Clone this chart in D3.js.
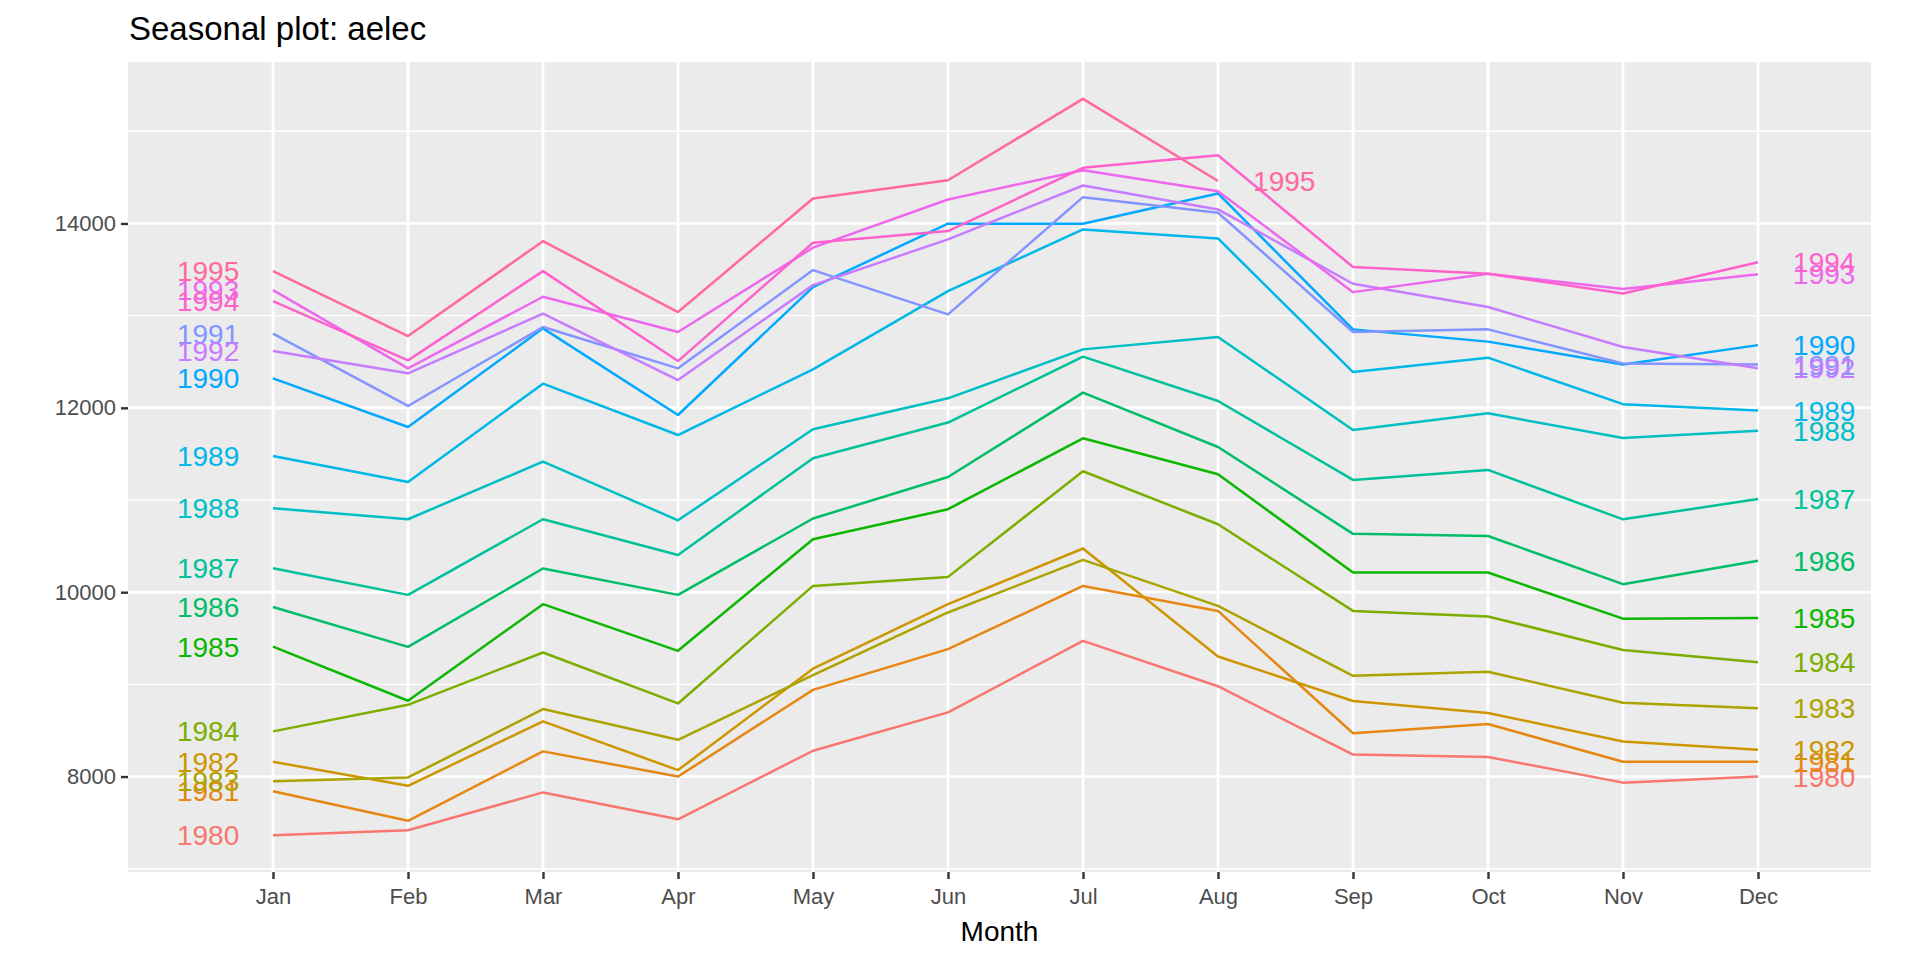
<!DOCTYPE html>
<html>
<head>
<meta charset="utf-8">
<script src="https://cdn.jsdelivr.net/npm/d3@7"></script>
<style>
  body { margin: 0; background: #ffffff; }
  svg { display: block; font-family: 'Liberation Sans', Arial, sans-serif; }
</style>
</head>
<body>
<svg></svg>
<script>
//chart data
let months = ['Jan', 'Feb', 'Mar', 'Apr', 'May', 'Jun', 'Jul', 'Aug', 'Sep', 'Oct', 'Nov', 'Dec'];
let years = [1980, 1981, 1982, 1983, 1984, 1985, 1986, 1987, 1988, 1989, 1990, 1991, 1992, 1993, 1994, 1995];
let yTicks = [8000, 10000, 12000, 14000];

//ggplot hue palette for 16 groups
let colors = ['#F8766D', '#E68613', '#CD9600', '#ABA300', '#7CAE00', '#0CB702', '#00BE67', '#00C19A',
              '#00BFC4', '#00B8E7', '#00A9FF', '#8494FF', '#C77CFF', '#ED68ED', '#FF61CC', '#FF68A1'];

let y1980 = [7364, 7417, 7828, 7536, 8280, 8696, 9472, 8980, 8238, 8212, 7934, 8000];
let y1981 = [7840, 7520, 8273, 8000, 8940, 9382, 10068, 9797, 8470, 8570, 8160, 8160];
let y1982 = [8160, 7900, 8598, 8070, 9170, 9870, 10474, 9303, 8820, 8690, 8380, 8290];
let y1983 = [7950, 7990, 8732, 8399, 9100, 9780, 10350, 9852, 9093, 9136, 8800, 8740];
let y1984 = [8490, 8778, 9346, 8793, 10068, 10166, 11312, 10737, 9797, 9737, 9372, 9240];
let y1985 = [9410, 8822, 9870, 9364, 10575, 10900, 11669, 11279, 10213, 10213, 9713, 9720];
let y1986 = [9840, 9407, 10257, 9971, 10799, 11250, 12165, 11575, 10633, 10610, 10087, 10340];
let y1987 = [10260, 9971, 10791, 10404, 11453, 11840, 12555, 12074, 11218, 11326, 10790, 11010];
let y1988 = [10911, 10791, 11417, 10780, 11767, 12103, 12634, 12768, 11760, 11940, 11672, 11750];
let y1989 = [11478, 11196, 12262, 11705, 12417, 13266, 13935, 13837, 12388, 12544, 12040, 11970];
let y1990 = [12320, 11792, 12862, 11922, 13310, 13997, 13997, 14325, 12851, 12718, 12470, 12680];
let y1991 = [12804, 12020, 12876, 12428, 13494, 13014, 14285, 14116, 12822, 12851, 12480, 12470];
let y1992 = [12616, 12374, 13021, 12301, 13331, 13827, 14412, 14152, 13346, 13093, 12660, 12430];
let y1993 = [13277, 12428, 13205, 12822, 13737, 14260, 14578, 14350, 13255, 13455, 13290, 13450];
let y1994 = [13158, 12515, 13483, 12507, 13791, 13917, 14604, 14740, 13527, 13455, 13240, 13580];
let y1995 = [13483, 12778, 13808, 13039, 14271, 14469, 15352, 14460];

let series = [y1980, y1981, y1982, y1983, y1984, y1985, y1986, y1987,
              y1988, y1989, y1990, y1991, y1992, y1993, y1994, y1995];

//svg and panel dimensions
let width = 1920;
let height = 960;
let panel = {left: 128, right: 1871, top: 62, bottom: 872};

let svg = d3.select('svg')
    .attr('width', width)
    .attr('height', height);

//x is month index (Jan = 1), extra room left and right for the year labels
let xScale = d3.scaleLinear()
    .domain([-0.074, 12.837])
    .range([panel.left, panel.right]);

//y expanded by 5% like ggplot
let allValues = series.flat();
let yMin = d3.min(allValues);
let yMax = d3.max(allValues);
let pad = (yMax - yMin) * 0.05;
let yScale = d3.scaleLinear()
    .domain([yMin - pad, yMax + pad])
    .range([panel.bottom, panel.top]);

let step = yTicks[1] - yTicks[0];
let yMinor = [yTicks[0] - step / 2]
    .concat(yTicks.map(t => t + step / 2))
    .filter(t => t >= yScale.domain()[0] && t <= yScale.domain()[1]);

//panel background
svg.append('rect')
    .attr('x', panel.left)
    .attr('y', panel.top)
    .attr('width', panel.right - panel.left)
    .attr('height', panel.bottom - panel.top)
    .attr('fill', '#EBEBEB');

//grid lines
let grid = svg.append('g');
grid.selectAll('.minor')
    .data(yMinor)
    .enter().append('line')
    .attr('x1', panel.left).attr('x2', panel.right)
    .attr('y1', d => yScale(d)).attr('y2', d => yScale(d))
    .attr('stroke', '#ffffff').attr('stroke-width', 1.35);
grid.selectAll('.major-y')
    .data(yTicks)
    .enter().append('line')
    .attr('x1', panel.left).attr('x2', panel.right)
    .attr('y1', d => yScale(d)).attr('y2', d => yScale(d))
    .attr('stroke', '#ffffff').attr('stroke-width', 2.7);
grid.selectAll('.major-x')
    .data(months)
    .enter().append('line')
    .attr('x1', (d, i) => xScale(i + 1)).attr('x2', (d, i) => xScale(i + 1))
    .attr('y1', panel.top).attr('y2', panel.bottom)
    .attr('stroke', '#ffffff').attr('stroke-width', 2.7);

//one line per year
let line = d3.line()
    .x((d, i) => xScale(i + 1))
    .y(d => yScale(d));

svg.append('g')
    .selectAll('path')
    .data(series)
    .enter().append('path')
    .attr('d', d => line(d))
    .attr('fill', 'none')
    .attr('stroke', (d, i) => colors[i])
    .attr('stroke-width', 2.5)
    .attr('stroke-linejoin', 'round');

//year labels at the start and end of each line
let labels = svg.append('g')
    .attr('font-size', 28);

labels.selectAll('.start')
    .data(series)
    .enter().append('text')
    .attr('x', xScale(1 - 0.25))
    .attr('y', d => yScale(d[0]))
    .attr('dy', '0.36em')
    .attr('text-anchor', 'end')
    .attr('fill', (d, i) => colors[i])
    .text((d, i) => years[i]);

labels.selectAll('.end')
    .data(series)
    .enter().append('text')
    .attr('x', d => xScale(d.length + 0.26))
    .attr('y', d => yScale(d[d.length - 1]))
    .attr('dy', '0.36em')
    .attr('text-anchor', 'start')
    .attr('fill', (d, i) => colors[i])
    .text((d, i) => years[i]);

//axes
let xAxis = d3.axisBottom(xScale)
    .tickValues(months.map((m, i) => i + 1))
    .tickFormat(d => months[d - 1])
    .tickSize(7)
    .tickPadding(9);

let yAxis = d3.axisLeft(yScale)
    .tickValues(yTicks)
    .tickFormat(d3.format('d'))
    .tickSize(7)
    .tickPadding(5);

let styleAxis = g => {
    g.select('.domain').remove();
    g.selectAll('line').attr('stroke', '#333333').attr('stroke-width', 2.4);
    g.selectAll('text').attr('fill', '#4D4D4D').attr('font-size', 22)
        .attr('font-family', "'Liberation Sans', Arial, sans-serif");
};

svg.append('g')
    .attr('transform', 'translate(0, ' + panel.bottom + ')')
    .call(xAxis)
    .call(styleAxis);

svg.append('g')
    .attr('transform', 'translate(' + panel.left + ', 0)')
    .call(yAxis)
    .call(styleAxis);

//titles
svg.append('text')
    .attr('x', 129)
    .attr('y', 40)
    .attr('font-size', 33)
    .attr('fill', '#000000')
    .text('Seasonal plot: aelec');

svg.append('text')
    .attr('x', (panel.left + panel.right) / 2)
    .attr('y', 941)
    .attr('text-anchor', 'middle')
    .attr('font-size', 28)
    .attr('fill', '#000000')
    .text('Month');
</script>
</body>
</html>
